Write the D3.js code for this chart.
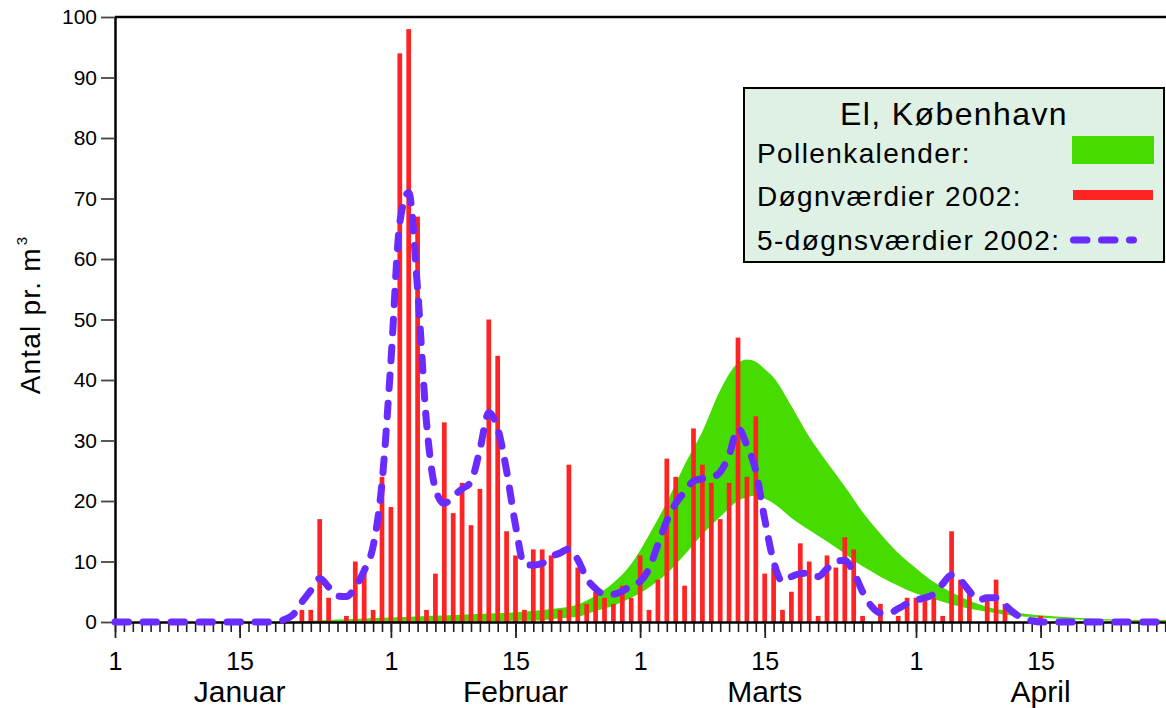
<!DOCTYPE html>
<html>
<head>
<meta charset="utf-8">
<script src="https://cdn.jsdelivr.net/npm/d3@7"></script>
<style>
  body { margin: 0; background: #fff; }
  svg { display: block; }
  text { font-family: "Liberation Sans", Arial, Helvetica, sans-serif; fill: #000; }
</style>
</head>
<body>
<svg id="chart" width="1166" height="708"></svg>
<script>
// Day index 0 = 1 January 2002

// Daily alder (El) pollen counts, from 22 January (day 21) onwards
const dailyStart = 21;
const dailyValues = [
  2, 2, 17, 4, 0, 1, 10, 8, 2, 24,
  19, 94, 98, 67, 2, 8, 33, 18, 23, 16,
  22, 50, 44, 15, 11, 2, 12, 12, 11, 2,
  26, 9, 3, 5, 4, 3, 6, 4, 11, 2,
  7, 27, 24, 6, 32, 26, 23, 17, 23, 47,
  24, 34, 8, 9, 2, 5, 13, 10, 1, 11,
  9, 14, 12, 1, 0, 3, 0, 1, 4, 4,
  4, 4, 1, 15, 7, 5, 0, 4, 7, 3,
  0, 0, 0, 1
];

// 5-day values (smoothed), per day
const fiveDayDays = [0, 10].concat(d3.range(18, 105), [112, 120]);
const fiveDayValues = [0, 0,
  0, 0.4, 1.2, 3.3, 5.2, 7.2, 5.8, 4.3, 4.2, 5.8,
  8.5, 12.5, 23, 43, 66, 71, 55, 33, 22, 19.6,
  20.8, 22, 23.2, 28.5, 34.6, 32, 25, 16, 9.5, 9.4,
  9.7, 10.8, 11.4, 12.1, 10.3, 7.2, 5.5, 4.6, 4.6, 5.1,
  6, 6.7, 8.8, 12.8, 16.7, 19.6, 21.5, 23.3, 23.7, 23.9,
  24.8, 27.6, 32, 29.2, 25, 17, 10, 6.7, 7.5, 8,
  8.1, 7.5, 8.8, 10, 10.2, 8.2, 5, 2.6, 1.5, 1.5,
  2.2, 3, 3.6, 4, 4.6, 6.3, 7.8, 6.9, 5.1, 3.6,
  4, 4, 2.8, 1.5, 0.6, 0.2, 0,
  0, 0];

// Pollen calendar band (lower / upper bound)
const calendarDays = [19, 25, 30, 35, 40, 45, 48, 50, 52, 54,
  56, 58, 60, 62, 64, 66, 68, 70, 71, 72,
  73, 74, 76, 78, 80, 82, 84, 86, 88, 90,
  92, 94, 96, 98, 100, 102, 105, 110, 115, 120];
const calendarLow = [0, 0, 0, 0.05, 0.1, 0.2, 0.3, 0.6, 0.85, 1.8,
  2.7, 4.0, 5.7, 8.0, 11.1, 14.5, 17.4, 20.0, 20.6, 20.9,
  20.4, 19.6, 17.2, 15.2, 13.3, 11.3, 9.2, 7.5, 6.0, 4.7,
  3.8, 2.9, 2.2, 1.7, 1.2, 0.9, 0.6, 0.3, 0.15, 0.1];
const calendarHigh = [0, 0.4, 0.7, 1.0, 1.3, 1.6, 2.0, 2.3, 2.9, 4.4,
  6.5, 9.6, 14.4, 19.8, 26.0, 31.5, 38.3, 42.8, 43.4, 43.0,
  41.8, 40.4, 35.7, 30.6, 26.4, 22.4, 18.2, 14.6, 11.4, 8.9,
  6.6, 4.9, 3.5, 2.5, 1.9, 1.4, 1.0, 0.55, 0.35, 0.3];

// Axis labels
const tickDays = [0, 14, 31, 45, 59, 73, 90, 104];
const tickLabels = ["1", "15", "1", "15", "1", "15", "1", "15"];
const monthDays = [14, 45, 73, 104];
const monthNames = ["Januar", "Februar", "Marts", "April"];
const yTicks = [0, 10, 20, 30, 40, 50, 60, 70, 80, 90, 100];

const legendTitle = "El, København";
const legendLabels = ["Pollenkalender:", "Døgnværdier 2002:", "5-døgnsværdier 2002:"];

const colGreen = "#47dc00";
const colRed = "#ff2424";
const colPurple = "#6a2bff";

const svg = d3.select("#chart");

const x = d3.scaleLinear().domain([0, 120]).range([115, 1183]);
const y = d3.scaleLinear().domain([0, 100]).range([622, 17]);

// Pollen calendar band
const calData = calendarDays.map((d, i) => ({ d, lo: calendarLow[i], hi: calendarHigh[i] }));
svg.append("path")
  .datum(calData)
  .attr("fill", colGreen)
  .attr("d", d3.area()
    .x(p => x(p.d))
    .y0(p => y(p.lo))
    .y1(p => y(p.hi))
    .curve(d3.curveMonotoneX));

// Daily bars
const barW = (x(1) - x(0)) * 0.53;
const dailyData = dailyValues.map((v, i) => ({ d: dailyStart + i, v }));
svg.append("g").selectAll("rect")
  .data(dailyData.filter(p => p.v > 0))
  .join("rect")
  .attr("x", p => x(p.d) - barW / 2)
  .attr("y", p => y(p.v))
  .attr("width", barW)
  .attr("height", p => y(0) - y(p.v))
  .attr("fill", colRed);

// Axes
const xMinor = svg.append("g")
  .attr("transform", `translate(0,${y(0)})`)
  .call(d3.axisBottom(x).tickValues(d3.range(0, 121)).tickSize(10).tickSizeOuter(0).tickFormat(""));
xMinor.select(".domain").remove();
xMinor.selectAll(".tick line").attr("stroke", "#222").attr("stroke-width", 1.6);

const xMajor = svg.append("g")
  .attr("transform", `translate(0,${y(0)})`)
  .call(d3.axisBottom(x).tickValues(tickDays).tickSize(16).tickSizeOuter(0).tickPadding(14)
    .tickFormat((d, i) => tickLabels[i]));
xMajor.select(".domain").attr("stroke", "#000").attr("stroke-width", 2.5);
xMajor.selectAll(".tick line").attr("stroke", "#222").attr("stroke-width", 1.8);
xMajor.selectAll(".tick text").attr("font-size", 25).attr("fill", "#000");

svg.append("g").selectAll("text")
  .data(monthDays)
  .join("text")
  .attr("x", d => x(d))
  .attr("y", 702)
  .attr("text-anchor", "middle")
  .attr("font-size", 30)
  .text((d, i) => monthNames[i]);

const yAxis = svg.append("g")
  .attr("transform", `translate(${x(0)},0)`)
  .call(d3.axisLeft(y).tickValues(yTicks).tickSize(14).tickSizeOuter(0).tickPadding(4));
yAxis.select(".domain").attr("stroke", "#000").attr("stroke-width", 2.5);
yAxis.selectAll(".tick line").attr("stroke", "#444").attr("stroke-width", 1.8);
yAxis.selectAll(".tick text").attr("font-size", 21).attr("fill", "#000");

// Top frame line
svg.append("line")
  .attr("x1", x(0)).attr("x2", 1166)
  .attr("y1", y(100)).attr("y2", y(100))
  .attr("stroke", "#000").attr("stroke-width", 2.5);

// 5-day curve
const fiveData = fiveDayDays.map((d, i) => ({ d, v: fiveDayValues[i] }));
svg.append("path")
  .datum(fiveData)
  .attr("fill", "none")
  .attr("stroke", colPurple)
  .attr("stroke-width", 7)
  .attr("stroke-linecap", "round")
  .attr("stroke-dasharray", "13.5,14.5")
  .attr("d", d3.line()
    .x(p => x(p.d))
    .y(p => y(p.v))
    .curve(d3.curveMonotoneX));

// Y axis title
const yTitle = svg.append("text")
  .attr("transform", "translate(40,315) rotate(-90)")
  .attr("text-anchor", "middle")
  .attr("font-size", 28)
  .attr("letter-spacing", 1.2);
yTitle.append("tspan").text("Antal pr. m");
yTitle.append("tspan").attr("font-size", 15).attr("dy", -13).attr("dx", 2).text("3");

// Legend
const lg = svg.append("g");
lg.append("rect")
  .attr("x", 744).attr("y", 88).attr("width", 420).attr("height", 174)
  .attr("fill", "#dff1e5").attr("stroke", "#000").attr("stroke-width", 2);
lg.append("text")
  .attr("x", 954).attr("y", 125)
  .attr("text-anchor", "middle")
  .attr("font-size", 32)
  .attr("letter-spacing", 1.4)
  .text(legendTitle);
const rowY = [163, 206, 250];
lg.selectAll("text.row")
  .data(legendLabels)
  .join("text")
  .attr("class", "row")
  .attr("x", 757)
  .attr("y", (d, i) => rowY[i])
  .attr("font-size", 28)
  .attr("letter-spacing", 1.4)
  .text(d => d);
lg.append("rect")
  .attr("x", 1072).attr("y", 136).attr("width", 82).attr("height", 28)
  .attr("fill", colGreen);
lg.append("rect")
  .attr("x", 1073).attr("y", 190).attr("width", 80).attr("height", 10)
  .attr("fill", colRed);
lg.append("line")
  .attr("x1", 1073.5).attr("x2", 1133.5)
  .attr("y1", 240).attr("y2", 240)
  .attr("stroke", colPurple).attr("stroke-width", 7)
  .attr("stroke-linecap", "round")
  .attr("stroke-dasharray", "13.5,14.5");
</script>
</body>
</html>
